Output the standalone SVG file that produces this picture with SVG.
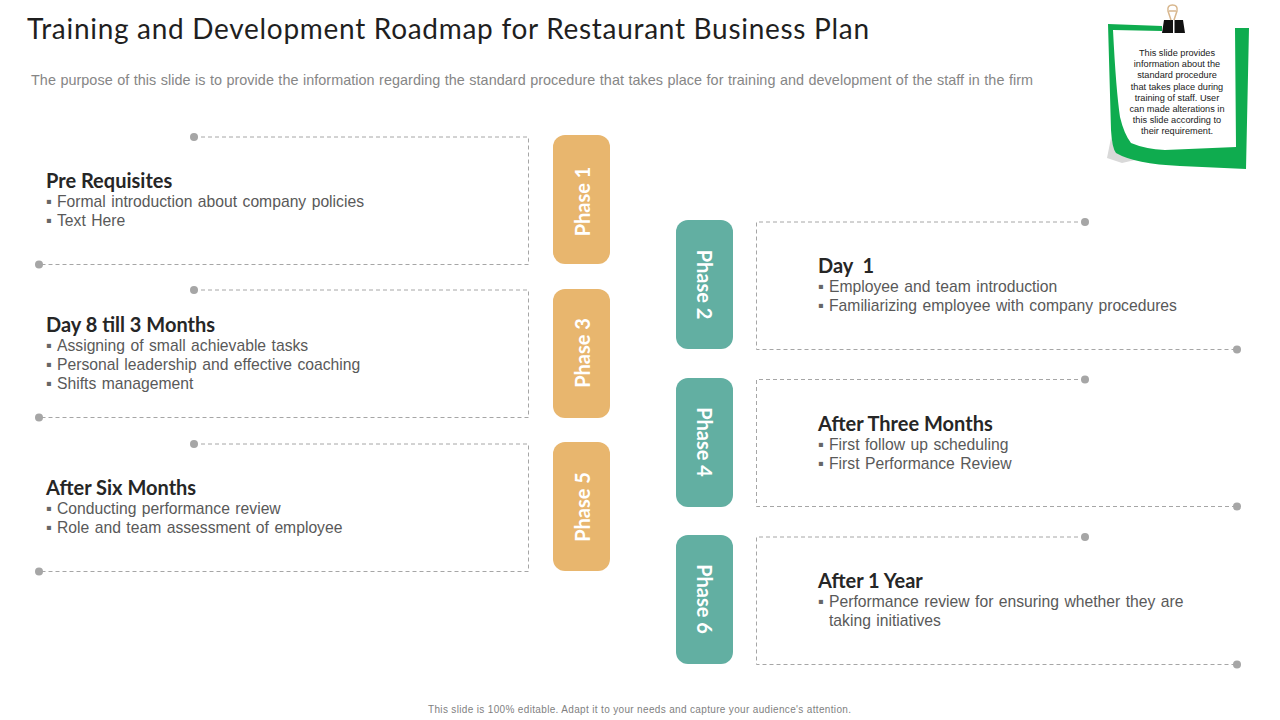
<svg xmlns="http://www.w3.org/2000/svg" width="1280" height="720" viewBox="0 0 1280 720">
<style>
text{font-family:"Liberation Sans",Arial,sans-serif}
.t{font-family:Lato,"Noto Sans",sans-serif;font-size:28px;fill:#1f1f1f}
.s{font-size:14.4px;fill:#868686;word-spacing:.4px}
.h{font-family:Lato,"Noto Sans",sans-serif;font-weight:700;font-size:20px;fill:#262626}
.b{font-size:15.7px;fill:#595959;word-spacing:1.1px}
.u{font-size:16.500px;fill:#666}
.m{font-size:9.2px;fill:#1a1a1a;text-anchor:middle}
.f{font-size:10px;fill:#7f7f7f}
.p{font-family:Lato,"Noto Sans",sans-serif;font-weight:700;font-size:20px;fill:#fff;text-anchor:middle;dominant-baseline:central}
.d{fill:none;stroke:#a6a6a6;stroke-width:1;stroke-dasharray:4 3}
.o{fill:#e8b66e}.g{fill:#62afa2}
.c{fill:#a6a6a6}
</style>
<rect width="1280" height="720" fill="#fff"/>
<text class="t" x="27" y="39" textLength="842" lengthAdjust="spacing">Training and Development Roadmap for Restaurant Business Plan</text>
<text class="s" x="31" y="85" textLength="1002" lengthAdjust="spacing">The purpose of this slide is to provide the information regarding the standard procedure that takes place for training and development of the staff in the firm</text>
<g id="note">
<path d="M1111 138L1107 158L1122 163L1135 160L1116 150Z" fill="#d9d9d9"/>
<path d="M1108 24L1162 26V31L1113 30Q1116 90 1120 117Q1124 134 1131 143Q1145 149 1165 150L1236 147L1235 28H1249L1246 169L1180 166Q1135 164 1116 153Q1112 148 1111 130Z" fill="#0fac4f"/>
<path d="M1164 20H1173V33H1162ZM1174.500 20H1183L1185 33H1174.500Z" fill="#111"/>
<path d="M1171 20L1168 11Q1167 5 1172.500 5Q1178 5 1177 11L1174 20M1169 11H1176" fill="none" stroke="#d8b78e" stroke-width="1.5"/>
<text class="m"><tspan x="1177" y="56">This slide provides</tspan><tspan x="1177" y="67">information about the</tspan><tspan x="1177" y="78">standard procedure</tspan><tspan x="1177" y="90">that takes place during</tspan><tspan x="1177" y="101">training of staff. User</tspan><tspan x="1177" y="112">can made alterations in</tspan><tspan x="1177" y="123">this slide according to</tspan><tspan x="1177" y="134">their requirement.</tspan></text>
</g>
<g id="connectors">
<path class="d" d="M194 137H528.500V264.500H39"/><circle class="c" cx="194" cy="137" r="4"/><circle class="c" cx="39" cy="264.500" r="4"/>
<path class="d" d="M194 290H528.500V417.500H39"/><circle class="c" cx="194" cy="290" r="4"/><circle class="c" cx="39" cy="417.500" r="4"/>
<path class="d" d="M194 444H528.500V571.500H39"/><circle class="c" cx="194" cy="444" r="4"/><circle class="c" cx="39" cy="571.500" r="4"/>
<path class="d" d="M1085 222H756.500V349.500H1237"/><circle class="c" cx="1085" cy="222" r="4"/><circle class="c" cx="1237" cy="349.500" r="4"/>
<path class="d" d="M1085 379.500H756.500V506.500H1237"/><circle class="c" cx="1085" cy="379.500" r="4"/><circle class="c" cx="1237" cy="506.500" r="4"/>
<path class="d" d="M1085 537H756.500V664.500H1237"/><circle class="c" cx="1085" cy="537" r="4"/><circle class="c" cx="1237" cy="664.500" r="4"/>
</g>
<g id="phase1"><rect class="o" x="553" y="135" width="57" height="129" rx="12"/><text class="p" transform="translate(581.500 201.500) rotate(-90)">Phase 1</text></g>
<g id="phase3"><rect class="o" x="553" y="289" width="57" height="129" rx="12"/><text class="p" transform="translate(581.500 353) rotate(-90)">Phase 3</text></g>
<g id="phase5"><rect class="o" x="553" y="442" width="57" height="129" rx="12"/><text class="p" transform="translate(581.500 507) rotate(-90)">Phase 5</text></g>
<g id="phase2"><rect class="g" x="676" y="220" width="57" height="129" rx="12"/><text class="p" transform="translate(704.500 284.500) rotate(90)">Phase 2</text></g>
<g id="phase4"><rect class="g" x="676" y="378" width="57" height="129" rx="12"/><text class="p" transform="translate(704.500 442) rotate(90)">Phase 4</text></g>
<g id="phase6"><rect class="g" x="676" y="535" width="57" height="129" rx="12"/><text class="p" transform="translate(704.500 599) rotate(90)">Phase 6</text></g>
<g id="pre"><text class="h" x="46" y="188">Pre Requisites</text><text class="b"><tspan class="u" x="46" y="207">▪</tspan><tspan x="57">Formal introduction about company policies</tspan><tspan class="u" x="46" y="226">▪</tspan><tspan x="57">Text Here</tspan></text></g>
<g id="day8"><text class="h" x="46" y="332">Day 8 till 3 Months</text><text class="b"><tspan class="u" x="46" y="351">▪</tspan><tspan x="57">Assigning of small achievable tasks</tspan><tspan class="u" x="46" y="370">▪</tspan><tspan x="57">Personal leadership and effective coaching</tspan><tspan class="u" x="46" y="389">▪</tspan><tspan x="57">Shifts management</tspan></text></g>
<g id="six"><text class="h" x="46" y="495">After Six Months</text><text class="b"><tspan class="u" x="46" y="514">▪</tspan><tspan x="57">Conducting performance review</tspan><tspan class="u" x="46" y="533">▪</tspan><tspan x="57">Role and team assessment of employee</tspan></text></g>
<g id="day1"><text class="h" x="818" y="273" xml:space="preserve">Day  1</text><text class="b"><tspan class="u" x="818" y="292">▪</tspan><tspan x="829">Employee and team introduction</tspan><tspan class="u" x="818" y="311">▪</tspan><tspan x="829">Familiarizing employee with company procedures</tspan></text></g>
<g id="three"><text class="h" x="818" y="431">After Three Months</text><text class="b"><tspan class="u" x="818" y="450">▪</tspan><tspan x="829">First follow up scheduling</tspan><tspan class="u" x="818" y="469">▪</tspan><tspan x="829">First Performance Review</tspan></text></g>
<g id="year"><text class="h" x="818" y="588">After 1 Year</text><text class="b"><tspan class="u" x="818" y="607">▪</tspan><tspan x="829">Performance review for ensuring whether they are</tspan><tspan x="829" y="626">taking initiatives</tspan></text></g>
<text class="f" x="428" y="713" textLength="423" lengthAdjust="spacing">This slide is 100% editable.  Adapt it to your needs and capture your audience's attention.</text>
</svg>
